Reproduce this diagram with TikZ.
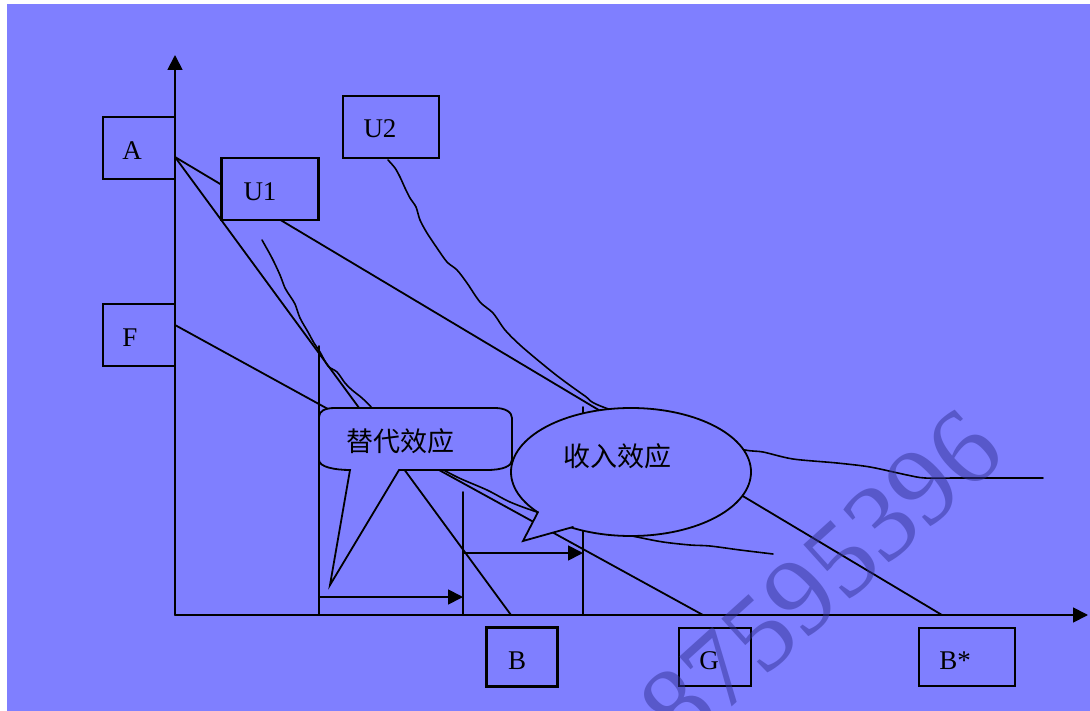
\documentclass[tikz,border=0pt]{standalone}
\usepackage{fontspec}
\setmainfont{Liberation Serif}
\newfontfamily\cjk{Noto Sans CJK SC}
\usetikzlibrary{shapes.geometric,arrows.meta}
\definecolor{bg}{RGB}{127,127,255}
\definecolor{wm}{RGB}{50,50,150}
\begin{document}
\begin{tikzpicture}[x=1pt,y=-1pt,
  every node/.style={inner sep=0pt},
  ln/.style={line width=1.8pt, line cap=round, line join=round},
  crv/.style={line width=1.6pt, line cap=round, line join=round},
  box/.style={draw, line width=2.2pt, fill=bg, inner sep=0pt},
  lab/.style={font=\fontsize{27}{30}\selectfont},
  cn/.style={font=\cjk\fontsize{27}{30}\selectfont},
  tip/.style={-{Triangle[length=15pt,width=15pt]}}]
\useasboundingbox (0,0) rectangle (1090,711);
\fill[white] (0,0) rectangle (1090,711);
\fill[bg] (7,4) rectangle (1090,711);
% coordinates
\coordinate (O) at (175,615);
\coordinate (Ytop) at (175,55);
\coordinate (Xend) at (1088,615);
\coordinate (pA) at (175,157);
\coordinate (pF) at (175,325);
\coordinate (pB) at (511,615);
\coordinate (pG) at (703,615);
\coordinate (pBs) at (942,615);
\coordinate (v1t) at (319,346);
\coordinate (v1b) at (319,615);
\coordinate (v2t) at (463,492);
\coordinate (v2b) at (463,615);
\coordinate (v3t) at (583,407);
\coordinate (v3b) at (583,615);
\coordinate (h1s) at (319,597);
\coordinate (h1e) at (463,597);
\coordinate (h2s) at (463,553);
\coordinate (h2e) at (583,553);
% axes
\draw[ln, tip] (O) -- (Ytop);
\draw[ln, tip] (O) -- (Xend);
% budget lines
\draw[ln] (pA) -- (pBs);
\draw[ln] (pA) -- (pB);
\draw[ln] (pF) -- (pG);
% indifference curves
\draw[crv] plot[smooth, tension=0.5] coordinates {(262,240) (272,258) (280,275) (285,288) (290,296) (295,304) (300,318) (308,332) (314,343) (320,352) (328,366) (337,372) (345,383) (352,390) (362,398) (372,408) (400,440) (430,462) (457,477) (487,490) (510,502) (537,512) (580,525) (637,537) (663,542) (690,545) (710,546) (740,550) (773,554)};
\draw[crv] plot[smooth, tension=0.5] coordinates {(388,160) (395,168) (400,177) (405,188) (410,198) (416,207) (420,220) (427,233) (437,248) (447,262) (457,270) (467,283) (480,302) (493,313) (505,330) (520,345) (540,362) (560,378) (585,396) (603,407) (700,440) (745,450) (763,452) (793,459) (837,463) (870,467) (907,475) (925,478) (960,478) (1043,478)};
% verticals and arrows
\draw[ln] (v1t) -- (v1b);
\draw[ln] (v2t) -- (v2b);
\draw[ln] (v3t) -- (v3b);
\draw[ln, tip] (h1s) -- (h1e);
\draw[ln, tip] (h2s) -- (h2e);
% callout 1
\draw[ln, fill=bg, line join=miter] (350,470) -- (330,585) -- (399,470) -- (487,470)
  .. controls (503,470) and (512,466) .. (512,460) -- (512,418)
  .. controls (512,412) and (505,408) .. (495,408) -- (335,408)
  .. controls (325,408) and (319,411) .. (319,417) -- (319,460)
  .. controls (319,467) and (335,470) .. (350,470) -- cycle;
\node[cn] (subst) at (400,441) {替代效应};
% callout 2
\node[ellipse, draw, fill=bg, line width=1.8pt, minimum width=240pt, minimum height=128pt] (inc) at (631,472) {};
\coordinate (t1) at (538,512);
\coordinate (tt) at (523,541);
\coordinate (t2) at (573,527);
\fill[bg] (t1) -- (tt) -- (t2) -- (565,515) -- (548,507) -- cycle;
\draw[ln, line join=miter] (t1) -- (tt) -- (t2);
\node[cn] (inctext) at (617,456) {收入效应};
% label boxes
\node[box, minimum width=72pt, minimum height=62pt] (bA) at (139,148) {};
\node[lab] at ([xshift=-7pt,yshift=-3pt]bA.center) {A};
\node[box, minimum width=72pt, minimum height=62pt] (bF) at (139,335) {};
\node[lab] at ([xshift=-9pt,yshift=-3pt]bF.center) {F};
\node[box, minimum width=97pt, minimum height=62pt] (bU1) at (270,189) {};
\node[lab] at ([xshift=-10pt,yshift=-3pt]bU1.center) {U1};
\node[box, minimum width=96pt, minimum height=62pt] (bU2) at (391,127) {};
\node[lab] at ([xshift=-11pt,yshift=-2pt]bU2.center) {U2};
\node[box, minimum width=71pt, minimum height=59pt] (bB) at (522,657) {};
\node[lab] at ([xshift=-5pt,yshift=-4pt]bB.center) {B};
\node[box, minimum width=72pt, minimum height=58pt] (bG) at (715,657) {};
\node[lab] at ([xshift=-6pt,yshift=-4pt]bG.center) {G};
\node[box, minimum width=96pt, minimum height=58pt] (bBs) at (967,657) {};
\node[lab] at ([xshift=-12pt,yshift=-4pt]bBs.center) {B*};
% watermark
\node[text=wm, opacity=0.5, rotate=42, font=\fontsize{110}{110}\selectfont] (wmk) at (821,578) {87595396};
\end{tikzpicture}
\end{document}
